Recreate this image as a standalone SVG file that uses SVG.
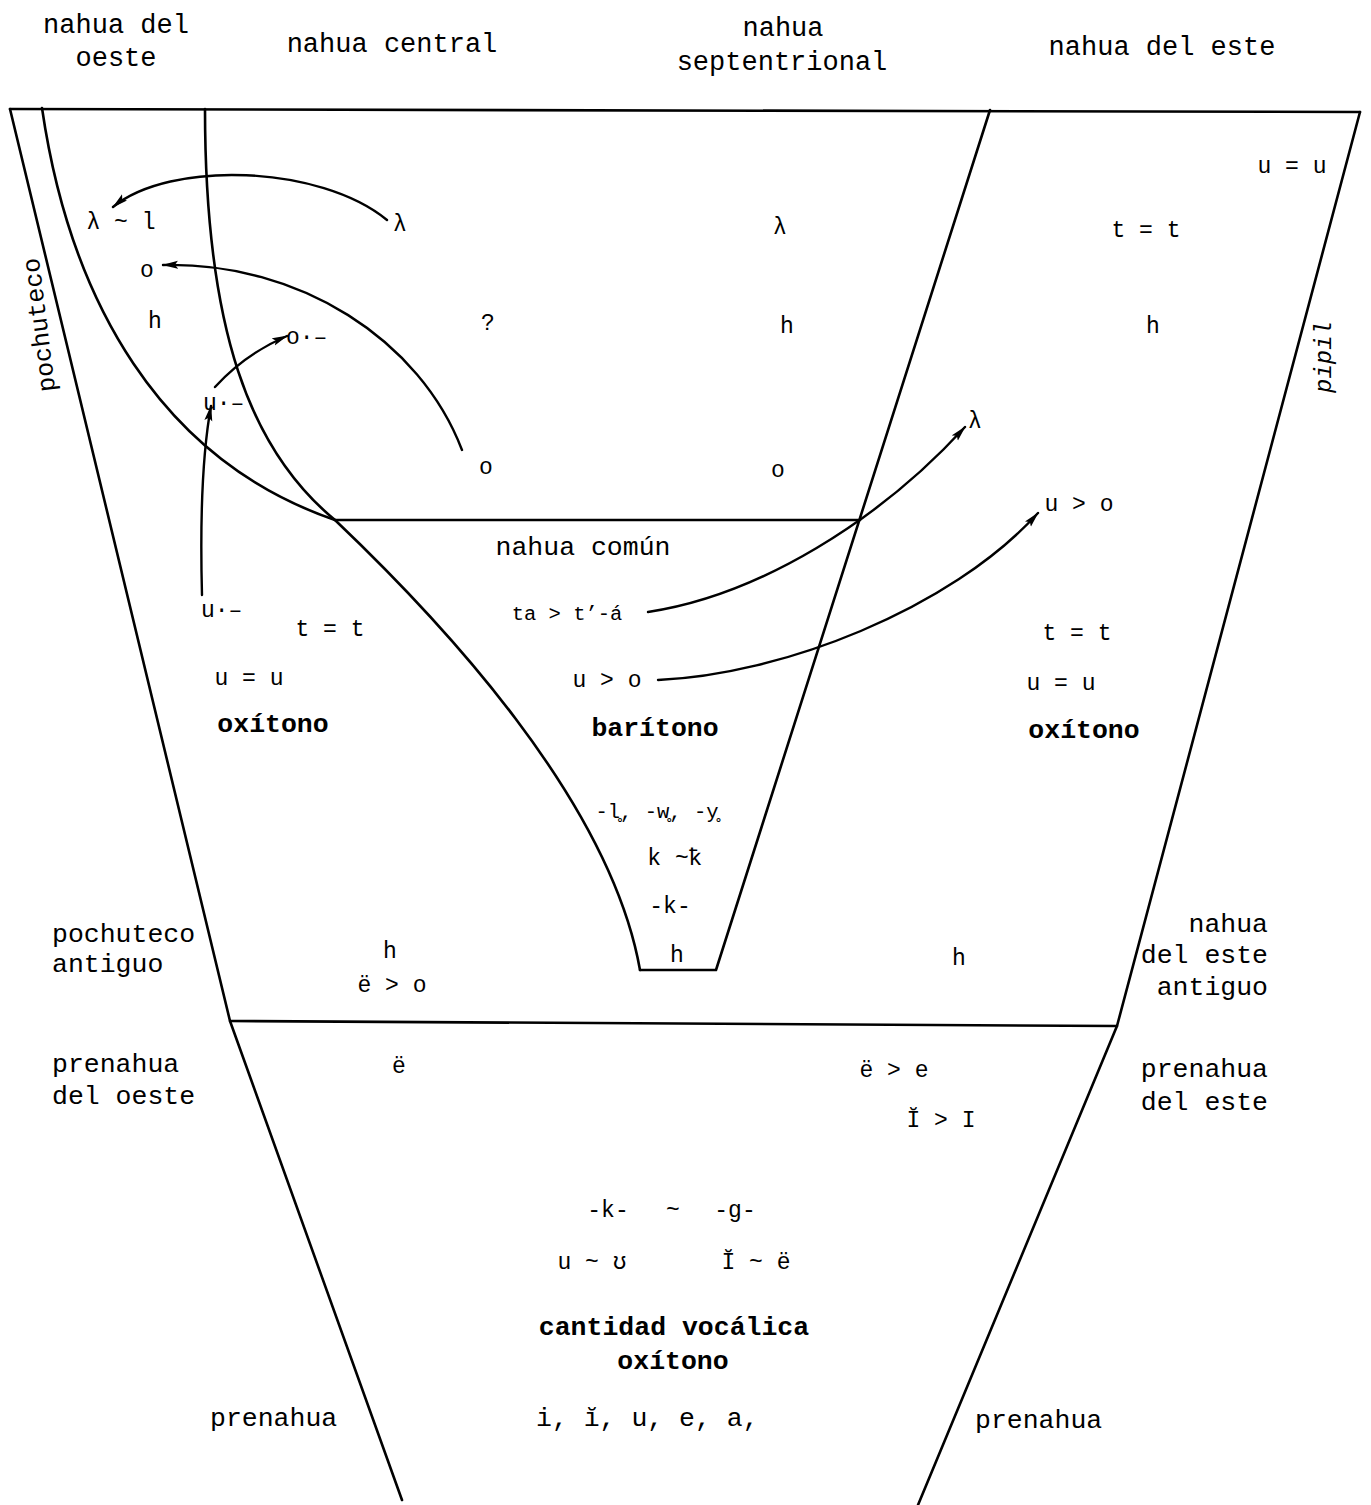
<svg xmlns="http://www.w3.org/2000/svg" width="1371" height="1505" viewBox="0 0 1371 1505">
<style>
  .ln { fill: none; stroke: #000; stroke-width: 2.6; stroke-linecap: round; stroke-linejoin: round; }
  .ar { fill: none; stroke: #000; stroke-width: 2.4; stroke-linecap: round; }
  text { font-family: "Liberation Mono", "DejaVu Sans Mono", monospace; fill: #000; }
  .hd { font-size: 27px; }
  .lb { font-size: 26.5px; }
  .bd { font-size: 26.5px; font-weight: bold; }
  .sy { font-size: 23px; }
  .sm { font-size: 20.5px; }
  .c { text-anchor: middle; }
  .r { text-anchor: end; }
</style>
<defs>
  <marker id="ah" viewBox="0 0 16 9" refX="15" refY="4.5" markerWidth="16" markerHeight="9" markerUnits="userSpaceOnUse" orient="auto">
    <path d="M0,0.5 L16,4.5 L0,8.5 L3,4.5 Z" fill="#000"/>
  </marker>
</defs>
<rect width="1371" height="1505" fill="#fff"/>

<g id="boundaries">
  <path class="ln" d="M10,109 L1360,112"/>
  <path class="ln" d="M10,109 L230,1021 L402,1500"/>
  <path class="ln" d="M1360,112 L1117,1026 L918,1505"/>
  <path class="ln" d="M230,1021 L1117,1026"/>
  <path class="ln" d="M42,108 C70,300 160,460 335,520"/>
  <path class="ln" d="M205,109 C205,330 250,450 335,520 C440,620 610,800 640,970"/>
  <path class="ln" d="M640,970 L716,970 L990,110"/>
  <path class="ln" d="M335,520 L860,520"/>
</g>

<g id="connectors">
  <path class="ar" marker-end="url(#ah)" d="M387,220 C320,165 170,160 113,207"/>
  <path class="ar" marker-end="url(#ah)" d="M462,450 C420,340 300,262 163,265"/>
  <path class="ar" marker-end="url(#ah)" d="M202,595 C200,520 203,450 211,406"/>
  <path class="ar" marker-end="url(#ah)" d="M215,387 Q245,354 287,336"/>
  <path class="ar" marker-end="url(#ah)" d="M648,612 C760,595 880,520 965,427"/>
  <path class="ar" marker-end="url(#ah)" d="M658,680 C780,675 950,610 1038,513"/>
</g>

<g id="h-oeste"><text class="hd c" x="116" y="33">nahua del</text><text class="hd c" x="116" y="66">oeste</text></g>
<g id="h-central"><text class="hd c" x="392" y="52">nahua central</text></g>
<g id="h-sept"><text class="hd c" x="783" y="36">nahua</text><text class="hd c" x="782" y="70">septentrional</text></g>
<g id="h-este"><text class="hd c" x="1162" y="55">nahua del este</text></g>

<g id="pochuteco"><text class="c" font-size="25" transform="translate(47,324) rotate(-97)">pochuteco</text></g>
<g id="pipil"><text class="c" font-style="italic" font-size="24" transform="translate(1331,357) rotate(-90)">pipil</text></g>

<g id="n-lam-l"><text class="sy c" x="121" y="229">λ ~ l</text></g>
<g id="n-lam1"><text class="sy c" x="400" y="231">λ</text></g>
<g id="n-lam2"><text class="sy c" x="780" y="234">λ</text></g>
<g id="n-lam3"><text class="sy c" x="975" y="428">λ</text></g>
<g id="n-o1"><text class="sy c" x="147" y="277">o</text></g>
<g id="n-h1"><text class="sy c" x="155" y="328">h</text></g>
<g id="n-q"><text class="sy c" x="488" y="330">?</text></g>
<g id="n-h2"><text class="sy c" x="787" y="333">h</text></g>
<g id="n-o2"><text class="sy c" x="486" y="474">o</text></g>
<g id="n-o3"><text class="sy c" x="778" y="477">o</text></g>
<g id="n-olong"><text class="sy" x="286" y="344">o·–</text></g>
<g id="n-ulong1"><text class="sy" x="203" y="410">u·–</text></g>
<g id="n-ulong2"><text class="sy" x="201" y="617">u·–</text></g>

<g id="n-uu-e"><text class="sy c" x="1292" y="173">u = u</text></g>
<g id="n-tt-e"><text class="sy c" x="1146" y="237">t = t</text></g>
<g id="n-h-e"><text class="sy c" x="1153" y="333">h</text></g>
<g id="n-uo-e"><text class="sy c" x="1079" y="511">u &gt; o</text></g>

<g id="n-comun"><text class="lb c" x="583" y="555">nahua común</text></g>
<g id="n-ta"><text class="sm c" x="567" y="620">ta &gt; t’-á</text></g>
<g id="n-uo"><text class="sy c" x="607" y="687">u &gt; o</text></g>
<g id="n-bari"><text class="bd c" x="655" y="736">barítono</text></g>
<g id="n-lwy"><text class="sm c" x="657" y="818">-l̥, -w̥, -y̥</text></g>
<g id="n-kk"><text class="sy c" x="674" y="865">k ~ꝁ</text></g>
<g id="n-k"><text class="sy c" x="670" y="913">-k-</text></g>
<g id="n-h3"><text class="sy c" x="677" y="962">h</text></g>

<g id="n-tt-w"><text class="sy c" x="330" y="636">t = t</text></g>
<g id="n-uu-w"><text class="sy c" x="249" y="685">u = u</text></g>
<g id="n-oxi-w"><text class="bd c" x="273" y="732">oxítono</text></g>

<g id="n-tt-e2"><text class="sy c" x="1077" y="640">t = t</text></g>
<g id="n-uu-e2"><text class="sy c" x="1061" y="690">u = u</text></g>
<g id="n-oxi-e"><text class="bd c" x="1084" y="738">oxítono</text></g>

<g id="n-poch-ant"><text class="lb" x="52" y="942">pochuteco</text><text class="lb" x="52" y="972">antiguo</text></g>
<g id="n-h4"><text class="sy c" x="390" y="958">h</text></g>
<g id="n-eo"><text class="sy c" x="392" y="992">ë &gt; o</text></g>
<g id="n-h5"><text class="sy c" x="959" y="965">h</text></g>
<g id="n-este-ant"><text class="lb r" x="1268" y="932">nahua</text><text class="lb r" x="1268" y="963">del este</text><text class="lb r" x="1268" y="995">antiguo</text></g>

<g id="n-pre-w"><text class="lb" x="52" y="1072">prenahua</text><text class="lb" x="52" y="1104">del oeste</text></g>
<g id="n-e"><text class="sy c" x="399" y="1073">ë</text></g>
<g id="n-ee"><text class="sy c" x="894" y="1077">ë &gt; e</text></g>
<g id="n-ii"><text class="sy c" x="941" y="1127">Ĭ &gt; I</text></g>
<g id="n-pre-e"><text class="lb r" x="1268" y="1077">prenahua</text><text class="lb r" x="1268" y="1110">del este</text></g>

<g id="n-kg"><text class="sy c" x="608" y="1217">-k-</text><text class="sy c" x="673" y="1217">~</text><text class="sy c" x="735" y="1217">-g-</text></g>
<g id="n-uu2"><text class="sy c" x="592" y="1269">u ~ ʊ</text></g>
<g id="n-ie"><text class="sy c" x="756" y="1269">Ĭ ~ ë</text></g>
<g id="n-cant"><text class="bd c" x="674" y="1335">cantidad vocálica</text></g>
<g id="n-oxi"><text class="bd c" x="673" y="1369">oxítono</text></g>
<g id="n-pre-l"><text class="lb" x="210" y="1426">prenahua</text></g>
<g id="n-vow"><text class="lb" x="536" y="1426">i, ĭ, u, e, a,</text></g>
<g id="n-pre-r"><text class="lb" x="975" y="1428">prenahua</text></g>
</svg>
